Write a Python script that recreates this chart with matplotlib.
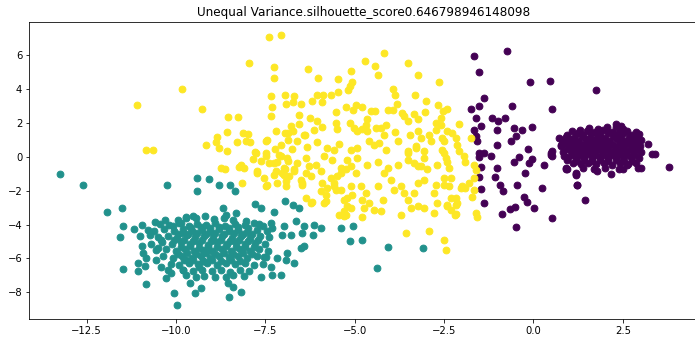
import numpy as np
import matplotlib
matplotlib.use("Agg")
import matplotlib.pyplot as plt

title = "Unequal Variance.silhouette_score0.646798946148098"

# cluster 0 (purple): sparse halo + dense core on the right
purple_x = [-1.66, -0.73, -1.53, -0.10, 0.46, -1.38, -1.75, -1.52, -0.59, 0.53,
            -1.61, -1.17, -0.99, -0.80, -1.47, -1.66, -1.61, -1.57, -1.03, -0.54,
            -0.33, -0.05, -0.50, -0.63, -1.03, -1.52, -1.38, -1.52, -1.19, -0.14,
            -0.40, -0.54, -0.03, -0.12, 0.30, -1.47, -1.03, -0.24, -1.52, -1.08,
            -0.93, -0.84, -0.45, 0.25, -1.47, -0.26, -0.17, -1.38, 0.02, -0.66,
            -0.52, -0.87, 0.53, -0.50, 1.44, 1.23, 1.18, 0.48, 0.53, 0.72,
            0.76, 3.21, 3.40, 3.33, 3.78, 2.93, 3.00, 1.18, 1.23, 0.95,
            0.90, 1.79, 2.16, 2.39, 2.63, 2.30, 2.45, 1.76, 0.48, 0.53,
            0.86, 0.95, 0.90, 1.18,
            # core
            1.55, 1.80, 2.05, 2.30, 2.50, 1.30,
            0.95, 1.18, 1.40, 1.62, 1.85, 2.08, 2.30, 2.52, 2.75, 2.95,
            0.80, 1.02, 1.24, 1.46, 1.68, 1.90, 2.12, 2.34, 2.56, 2.78, 3.00,
            0.78, 1.00, 1.22, 1.44, 1.66, 1.88, 2.10, 2.32, 2.54, 2.76, 2.98,
            0.82, 1.04, 1.26, 1.48, 1.70, 1.92, 2.14, 2.36, 2.58, 2.80, 3.02,
            0.98, 1.20, 1.42, 1.64, 1.86, 2.08, 2.30, 2.52, 2.74, 2.96,
            1.10, 1.32, 1.54, 1.76, 1.98, 2.20, 2.42, 2.64, 2.86,
            1.40, 1.70, 2.00, 2.50,
            # core, in-between rows
            1.08, 1.29, 1.51, 1.73, 1.96, 2.19, 2.41, 2.63, 2.86,
            0.91, 1.13, 1.35, 1.57, 1.79, 2.01, 2.23, 2.45, 2.67, 2.89,
            0.89, 1.11, 1.33, 1.55, 1.77, 1.99, 2.21, 2.43, 2.65, 2.87,
            0.93, 1.15, 1.37, 1.59, 1.81, 2.03, 2.25, 2.47, 2.69, 2.91,
            1.09, 1.31, 1.53, 1.75, 1.97, 2.19, 2.41, 2.63, 2.85,
            1.21, 1.43, 1.65, 1.87, 2.09, 2.31, 2.53, 2.75]
purple_y = [5.96, 6.28, 5.01, 4.46, 4.52, 3.49, 2.84, 3.00, 3.04, 2.82,
            2.30, 2.28, 2.11, 2.28, 1.85, 1.61, 1.22, 0.96, 1.61, 1.71,
            1.61, 1.77, 1.26, 0.92, 0.68, 0.23, 0.23, -0.03, 0.03, 0.46,
            -0.03, -0.27, -0.13, -0.37, -0.46, -0.62, -0.68, -0.96, -1.16, -1.16,
            -1.65, -2.01, -1.65, -1.81, -1.89, -2.34, -2.64, -2.70, -3.04, -3.08,
            -2.98, -3.37, -3.63, -4.14, -2.54, -1.65, -1.00, 0.13, 0.33, 1.12,
            0.72, 0.74, 0.15, 0.15, -0.62, -0.64, -0.64, -1.04, -1.63, -0.74,
            -0.64, -0.84, -0.98, -0.70, -0.45, 1.97, 1.83, 3.93, 0.25, 0.05,
            0.05, -0.15, -0.74, -0.94,
            1.72, 1.66, 1.75, 1.80, 1.68, 1.62,
            1.30, 1.38, 1.32, 1.40, 1.34, 1.42, 1.33, 1.39, 1.30, 1.36,
            0.98, 1.04, 0.96, 1.06, 0.98, 1.05, 0.97, 1.04, 0.96, 1.03, 0.98,
            0.62, 0.68, 0.60, 0.70, 0.63, 0.69, 0.61, 0.67, 0.62, 0.70, 0.64,
            0.28, 0.34, 0.26, 0.35, 0.27, 0.33, 0.25, 0.32, 0.28, 0.35, 0.30,
            -0.02, -0.08, 0.00, -0.06, 0.01, -0.05, 0.02, -0.07, -0.01, -0.04,
            -0.38, -0.44, -0.36, -0.42, -0.35, -0.45, -0.37, -0.41, -0.36,
            -0.68, -0.72, -0.66, -0.70,
            1.52, 1.48, 1.55, 1.50, 1.57, 1.49, 1.53, 1.51, 1.46,
            1.17, 1.14, 1.20, 1.15, 1.19, 1.13, 1.18, 1.16, 1.21, 1.14,
            0.81, 0.84, 0.79, 0.85, 0.80, 0.83, 0.78, 0.86, 0.82, 0.80,
            0.46, 0.49, 0.44, 0.50, 0.45, 0.48, 0.43, 0.51, 0.47, 0.45,
            0.13, 0.10, 0.15, 0.11, 0.14, 0.09, 0.16, 0.12, 0.10,
            -0.22, -0.19, -0.24, -0.20, -0.23, -0.18, -0.21, -0.25]

# cluster 1 (teal): lower left
teal_x = [-13.25, -12.60, -10.24, -9.40, -9.08, -9.40, -8.80, -8.48, -8.36, -11.94,
          -11.52, -11.48, -11.56, -11.48, -10.83, -10.06, -9.96, -11.18, -11.06, -11.06,
          -10.87, -11.01, -10.96, -10.92, -10.83, -10.96, -10.78, -10.59, -10.73, -10.31,
          -10.08, -10.41, -10.50, -10.55, -10.41, -10.22, -10.27, -10.13, -9.80, -9.85,
          -9.71, -9.52, -9.71, -9.80, -9.71, -9.43, -9.34, -9.25, -9.61, -9.47,
          -9.29, -8.59, -8.54, -8.40, -8.52, -8.17, -8.68, -8.59, -8.31, -8.03,
          -7.80, -7.61, -7.26, -6.96, -6.72, -6.56, -7.68, -7.35, -7.30, -6.98,
          -6.65, -6.42, -6.14, -5.93, -5.39, -5.04, -7.02, -6.79, -6.46, -6.16,
          -5.14, -4.78, -4.06, -3.09, -4.38, -6.42, -6.51, -6.88, -6.93, -6.70,
          -7.16, -7.54, -7.35, -7.07, -7.30, -7.63,
          # core
          -9.72, -9.45, -9.18, -8.93, -8.66, -8.40, -9.95,
          -10.45, -10.18, -9.90, -9.64, -9.40, -9.15, -8.90, -8.62, -8.35, -8.08, -7.82, -7.55,
          -10.62, -10.33, -10.05, -9.80, -9.55, -9.28, -9.05, -8.78, -8.52, -8.26, -8.00, -7.74, -7.46,
          -10.50, -10.22, -9.96, -9.70, -9.46, -9.20, -8.95, -8.70, -8.44, -8.18, -7.92, -7.66, -7.40,
          -10.70, -10.40, -10.12, -9.86, -9.60, -9.34, -9.10, -8.84, -8.58, -8.32, -8.06, -7.80, -7.52,
          -10.55, -10.28, -10.00, -9.74, -9.50, -9.24, -8.98, -8.72, -8.46, -8.20, -7.94, -7.68, -7.42,
          -10.35, -10.08, -9.82, -9.56, -9.30, -9.04, -8.78, -8.52, -8.26, -8.00, -7.74, -7.48,
          -10.15, -9.90, -9.64, -9.38, -9.12, -8.86, -8.60, -8.34, -8.08, -7.82, -7.56,
          -9.80, -9.52, -9.26, -9.00, -8.74, -8.48, -8.22, -7.96,
          -9.20, -8.90, -8.40, -8.10,
          # core, in-between rows
          -9.58, -9.31, -9.05, -8.79, -8.52, -8.25, -7.98,
          -9.93, -9.67, -9.41, -9.16, -8.90, -8.64, -8.38, -8.12, -7.86,
          -10.05, -9.78, -9.53, -9.27, -9.01, -8.75, -8.49, -8.23, -7.97, -7.70,
          -9.87, -9.61, -9.36, -9.10, -8.85, -8.59, -8.33, -8.07, -7.81,
          -9.95, -9.69, -9.43, -9.17, -8.91, -8.65, -8.39, -8.13, -7.87,
          -9.77, -9.51, -9.25, -8.99, -8.73, -8.47, -8.21]
teal_y = [-1.00, -1.67, -1.67, -1.24, -1.29, -2.03, -1.67, -1.63, -1.99, -3.25,
          -3.02, -4.11, -4.76, -6.64, -7.51, -8.06, -8.75, -4.26, -6.28, -6.72,
          -6.44, -4.70, -5.29, -5.69, -5.98, -4.01, -4.30, -3.87, -4.60, -3.71,
          -4.11, -4.90, -5.39, -6.08, -6.48, -6.68, -7.17, -6.87, -4.50, -3.91,
          -3.61, -3.51, -6.08, -6.68, -6.97, -7.07, -6.48, -6.18, -7.47, -8.02,
          -7.76, -7.07, -7.47, -7.67, -8.26, -8.00, -3.02, -3.41, -3.31, -3.81,
          -2.78, -3.02, -3.28, -2.62, -2.82, -3.02, -3.95, -3.91, -4.20, -4.11,
          -3.81, -4.11, -4.05, -4.20, -4.20, -4.07, -4.60, -4.60, -4.50, -4.60,
          -4.96, -4.90, -5.33, -5.41, -6.54, -5.29, -5.39, -5.69, -6.08, -6.24,
          -5.98, -5.89, -6.48, -6.97, -6.97, -7.07,
          -3.55, -3.62, -3.50, -3.66, -3.58, -3.70, -3.75,
          -3.95, -4.05, -3.92, -4.08, -3.96, -4.02, -3.90, -4.06, -3.97, -4.03, -3.93, -4.08,
          -4.38, -4.28, -4.40, -4.25, -4.36, -4.30, -4.42, -4.27, -4.38, -4.31, -4.44, -4.33, -4.40,
          -4.72, -4.66, -4.78, -4.64, -4.75, -4.68, -4.80, -4.66, -4.77, -4.70, -4.82, -4.69, -4.76,
          -5.12, -5.05, -5.16, -5.04, -5.14, -5.08, -5.18, -5.03, -5.15, -5.07, -5.17, -5.06, -5.13,
          -5.52, -5.44, -5.55, -5.46, -5.56, -5.48, -5.58, -5.44, -5.54, -5.47, -5.57, -5.45, -5.53,
          -5.88, -5.95, -5.86, -5.96, -5.87, -5.98, -5.85, -5.94, -5.88, -5.97, -5.86, -5.93,
          -6.30, -6.36, -6.26, -6.35, -6.28, -6.38, -6.27, -6.34, -6.29, -6.37, -6.31,
          -6.70, -6.76, -6.66, -6.74, -6.68, -6.78, -6.70, -6.75,
          -7.02, -7.08, -7.00, -7.05,
          -4.18, -4.14, -4.21, -4.16, -4.19, -4.13, -4.20,
          -4.53, -4.57, -4.50, -4.56, -4.52, -4.58, -4.51, -4.55, -4.54,
          -4.93, -4.89, -4.95, -4.90, -4.96, -4.88, -4.94, -4.91, -4.97, -4.92,
          -5.33, -5.29, -5.36, -5.31, -5.35, -5.28, -5.34, -5.30, -5.32,
          -5.72, -5.68, -5.75, -5.70, -5.74, -5.67, -5.73, -5.69, -5.71,
          -6.12, -6.08, -6.15, -6.10, -6.14, -6.07, -6.13]

# cluster 2 (yellow): wide cloud in the middle
yellow_x = [-7.40, -7.05, -7.96, -7.26, -7.26, -9.82, -11.10, -9.26, -7.35, -6.95,
            -7.30, -6.93, -7.33, -8.54, -8.27, -8.58, -8.84, -8.88, -9.17, -8.78,
            -8.56, -10.83, -10.64, -8.11, -7.99, -8.28, -8.05, -7.93, -7.48, -7.21,
            -6.87, -7.23, -7.07, -7.79, -7.47, -7.84, -7.63, -7.40, -7.16, -7.07,
            -6.86, -8.73, -8.63, -8.23, -8.17, -8.09, -7.74, -7.21, -6.95,
            -6.31, -6.03, -5.47, -5.09, -4.72, -4.17, -4.43, -4.36, -3.50, -3.24,
            -2.64, -5.08, -5.13, -5.18, -5.47, -3.93, -3.88, -3.32, -3.01, -2.67,
            -6.70, -6.71, -6.49, -6.04, -5.89, -5.67, -6.18, -5.92, -6.56, -6.24,
            -6.04, -5.53, -5.23, -5.05, -4.96, -4.79, -4.55, -4.44, -4.08, -3.94,
            -3.82, -3.68, -3.62, -3.34, -3.24, -3.52, -3.04, -2.52, -2.59, -2.73,
            -5.53, -5.48, -5.14, -5.02, -4.92, -4.64, -4.69, -4.78, -4.64, -4.41,
            -4.27, -4.18, -4.13, -3.88, -3.46, -3.24, -3.15, -2.92, -2.73, -2.55,
            -2.59, -2.41, -6.95, -6.79, -6.71, -6.56, -6.40, -6.14, -5.90,
            -7.46, -6.85, -6.74, -6.60, -6.42, -6.32, -6.04, -5.76, -5.58, -5.44,
            -5.11, -4.92, -4.60, -4.46, -4.32, -4.13, -3.80, -3.52, -3.29, -3.06,
            -2.87, -2.55, -2.69, -2.41, -3.24, -3.06, -3.52, -3.80, -4.08, -4.36,
            -4.64, -4.92, -5.20, -5.39, -5.62, -5.86, -6.08, -6.36, -6.60, -6.88,
            -7.12, -6.98,
            -7.77, -7.49, -7.26, -7.72, -7.54, -7.49, -7.26, -7.02, -6.93, -6.84,
            -6.70, -6.51, -6.46, -6.36, -6.22, -6.27, -5.94, -5.90, -5.76, -5.81,
            -6.36, -6.18, -5.67, -5.58, -5.52, -5.39, -5.25, -5.11, -4.97, -5.11,
            -5.20, -5.06, -4.83, -4.69, -4.78, -4.60, -4.36, -4.22, -4.27, -4.45,
            -4.73, -5.11, -5.29, -5.43, -5.25, -4.78, -4.18, -3.99, -3.90, -3.71,
            -3.62, -3.52, -3.34, -3.24, -3.06, -2.97, -3.15, -3.34, -3.52, -3.29,
            -3.71, -3.43, -3.24, -3.06, -2.78, -2.69, -2.41, -2.18, -2.13, -2.31,
            -2.36, -1.99, -1.90, -2.78, -2.73, -2.50, -2.31, -3.57, -2.92, -2.50,
            -2.45, -6.22,
            -2.43, -2.08, -2.27, -2.17, -2.13, -2.08, -1.75, -2.50, -2.50, -2.45,
            -2.36, -2.50, -1.94, -1.92, -1.66, -1.61, -1.66, -1.80, -2.03, -1.66,
            -1.71, -2.17, -2.17, -2.41, -2.31, -2.17, -1.61, -1.57,
            -7.44, -7.16, -6.93, -6.98, -6.70, -6.46, -5.94, -5.81, -5.85, -5.48,
            -5.57, -5.39, -5.29, -5.20, -5.29, -8.15]
yellow_y = [7.07, 7.23, 5.57, 5.31, 4.68, 3.99, 3.10, 2.82, 3.59, 3.69,
            2.96, 3.13, 2.44, 2.39, 2.39, 1.49, 1.17, 0.90, 0.68, 0.55,
            0.33, 0.43, 0.43, 1.39, 1.35, 0.90, 0.92, 0.90, 0.96, 1.51,
            1.39, 0.50, 0.68, 0.27, 0.23, -0.11, -0.23, -0.37, -0.27, 0.03,
            -0.23, -0.68, -0.74, -0.61, -0.50, -0.66, -0.82, -0.82, -0.72,
            5.19, 4.68, 4.60, 5.06, 5.69, 6.14, 5.37, 4.84, 5.57, 4.82,
            4.44, 4.46, 4.18, 3.95, 3.87, 4.01, 3.65, 3.69, 3.29, 3.06,
            3.59, 3.23, 3.16, 3.65, 3.65, 3.65, 3.29, 3.23, 2.48, 2.28,
            2.11, 2.66, 2.94, 2.78, 3.06, 2.94, 2.74, 2.74, 2.80, 2.80,
            3.16, 2.60, 2.40, 2.54, 2.27, 2.11, 2.66, 2.70, 2.30, 2.01,
            2.01, 1.67, 2.01, 1.71, 1.51, 2.27, 1.91, 1.67, 1.51, 1.71,
            1.71, 1.32, 1.87, 1.47, 1.32, 1.51, 1.12, 1.32, 1.61, 1.12,
            1.91, 1.51, 1.41, 1.85, 1.51, 1.95, 1.32, 1.61, 1.75,
            0.98, 1.02, 0.49, 0.92, 1.28, 0.56, 0.88, 0.52, 0.43, 0.76,
            0.43, 0.52, 0.92, 0.72, 0.82, 0.43, 0.92, 0.33, 0.52, 0.33,
            0.92, 0.43, -0.46, -0.27, -0.56, -0.07, -0.17, -0.46, -0.66, -0.27,
            -0.46, -0.07, -0.17, -0.66, -0.17, 0.03, -0.46, -0.07, -0.37, -0.07,
            0.13, -0.66,
            0.25, 0.05, -0.34, -0.94, -1.23, -1.73, -1.04, -0.94, -1.44, -1.14,
            -0.74, -1.34, -1.63, -0.94, -1.14, -0.55, -0.84, -1.53, -1.83, -2.62,
            -2.42, -2.68, -1.23, -1.53, -1.93, -0.94, -0.74, -0.55, -0.94, -1.73,
            -2.42, -2.23, -1.73, -2.12, -2.52, -2.72, -1.73, -2.52, -3.22, -3.12,
            -3.02, -3.02, -3.22, -3.41, -3.41, -3.55, -0.94, -1.34, -1.93, -1.73,
            -2.12, -2.52, -2.12, -1.53, -1.34, -0.74, -0.55, -0.34, 0.25, 0.64,
            -3.41, -3.02, -2.92, -3.02, -3.31, -2.72, -2.92, -3.41, -2.72, -2.42,
            -1.73, -1.73, -1.83, -2.12, -1.63, -1.23, -1.23, -4.50, -4.40, -4.90,
            -5.49, -2.72,
            2.86, 1.95, 1.41, 1.12, 0.72, 0.33, 1.12, 0.92, 0.23, -0.07,
            -0.66, -1.65, 0.03, -0.27, -0.46, -0.76, -1.26, -1.55, -1.85, -1.95,
            -2.34, -2.44, -2.84, -2.84, -3.13, -3.39, -3.33, -3.53,
            -1.63, -1.53, -1.73, -1.04, -0.84, -1.53, -2.03, -2.23, -2.72, -1.14,
            -1.73, -1.93, -2.52, -2.92, -3.51, -1.53]

fig = plt.figure(figsize=(695 / 72, 354 / 72), dpi=72)
ax = fig.add_axes([29.3 / 695, 35 / 354, 669.6 / 695, 297 / 354])

ax.scatter(purple_x, purple_y, color="#440154", s=46)
ax.scatter(teal_x, teal_y, color="#21918c", s=46)
ax.scatter(yellow_x, yellow_y, color="#fde725", s=46)

ax.set_xlim(-14.1, 4.63)
ax.set_ylim(-9.58, 7.98)
ax.set_title(title)

fig.savefig("out.png", dpi=72)
